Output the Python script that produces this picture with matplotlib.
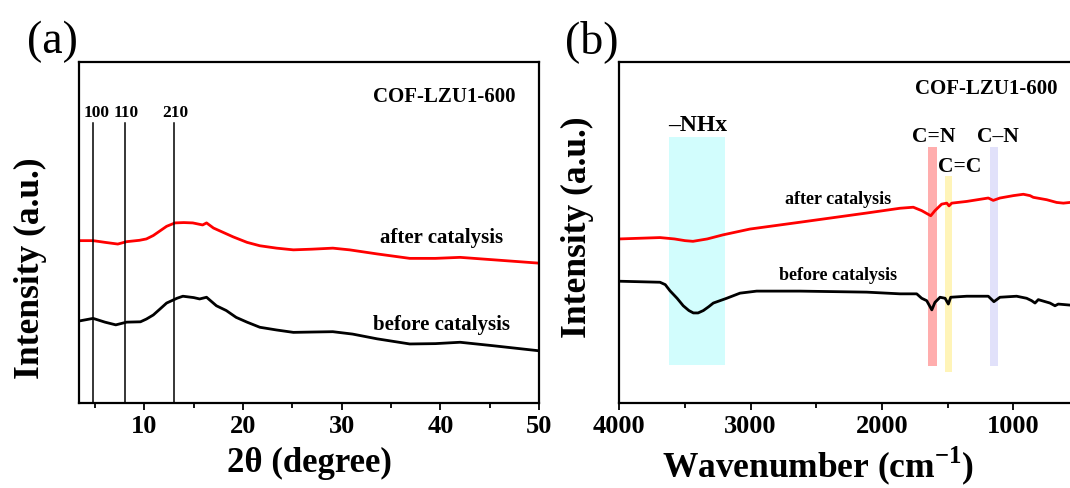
import matplotlib
matplotlib.use("Agg")
import matplotlib.pyplot as plt
from matplotlib.ticker import MultipleLocator

plt.rcParams['font.family'] = ['Liberation Serif', 'DejaVu Serif']
plt.rcParams['mathtext.fontset'] = 'custom'
plt.rcParams['mathtext.rm'] = 'Liberation Serif:bold'
plt.rcParams['mathtext.bf'] = 'Liberation Serif:bold'

# ---------------- XRD data (panel a) ----------------
xrd_2theta_after = [3.5, 4.8, 6.0, 7.3, 8.2, 9.5, 10.2, 10.9, 11.6, 12.25, 13.1, 14.0, 14.9,
                    15.9, 16.3, 17.0, 18.0, 19.0, 20.4, 21.7, 23.4, 25.1, 27.0, 29.1,
                    30.8, 33.6, 36.9, 39.5, 42.0, 45.3, 50.0]
xrd_after = [47.7, 47.7, 47.2, 46.7, 47.4, 47.8, 48.2, 49.2, 50.6, 51.9, 52.9, 53.0, 52.9,
             52.3, 52.9, 51.4, 50.1, 48.8, 47.2, 46.2, 45.5, 45.0, 45.2, 45.5,
             45.0, 43.8, 42.5, 42.5, 42.8, 42.1, 41.1]
xrd_2theta_before = [3.5, 4.8, 6.0, 7.1, 8.2, 9.6, 10.2, 10.9, 11.6, 12.25, 13.3, 13.9,
                     15.0, 15.6, 16.3, 17.3, 18.3, 19.3, 20.4, 21.7, 23.4, 25.1, 27.0,
                     29.1, 31.1, 33.6, 36.9, 39.5, 42.0, 45.3, 50.0]
xrd_before = [24.2, 24.9, 23.8, 23.0, 23.8, 23.9, 24.7, 25.9, 27.7, 29.4, 30.8, 31.4,
              31.0, 30.6, 31.1, 28.6, 27.2, 25.2, 23.8, 22.3, 21.5, 20.8, 20.9,
              21.0, 20.3, 18.9, 17.4, 17.5, 17.9, 16.9, 15.4]
hkl_labels = ['100', '110', '210']
hkl_pos = [4.8, 8.0, 13.0]

# ---------------- FTIR data (panel b) ----------------
ir_wn_after = [4000, 3690, 3580, 3500, 3439, 3330, 3210, 3005, 2624, 2116, 1862, 1761,
               1697, 1628, 1596, 1545, 1506, 1489, 1468, 1354, 1190, 1152, 1101, 999,
               923, 872, 847, 745, 669, 618, 568, 550]
ir_after = [48.2, 48.6, 48.2, 47.7, 47.5, 48.2, 49.4, 51.1, 53.1, 55.8, 57.2, 57.5,
            56.5, 55.0, 56.5, 58.4, 58.7, 57.9, 58.7, 59.2, 60.2, 59.5, 60.2, 60.9,
            61.3, 60.9, 60.4, 59.7, 58.9, 58.7, 58.9, 58.9]
ir_wn_before = [4000, 3690, 3650, 3614, 3560, 3513, 3470, 3436, 3400, 3360, 3320, 3284,
                3182, 3081, 2954, 2624, 2116, 1862, 1735, 1697, 1659, 1620, 1596, 1557,
                1519, 1494, 1476, 1354, 1190, 1147, 1101, 974, 898, 860, 834, 809, 720,
                682, 657, 568, 550]
ir_before = [35.8, 35.5, 34.8, 33.0, 30.8, 28.6, 27.2, 26.5, 26.5, 27.2, 28.3, 29.4,
             30.8, 32.3, 32.9, 32.9, 32.6, 32.1, 32.1, 30.8, 30.1, 27.4, 29.6, 31.1,
             30.8, 29.1, 31.1, 31.4, 31.4, 29.8, 31.1, 31.4, 30.8, 30.1, 29.4, 30.4, 29.4,
             28.6, 29.1, 28.8, 28.8]
band_labels = ['–NHx', 'C=N', 'C=C', 'C–N']
band_lo = [3196, 1580, 1464, 1116]
band_hi = [3622, 1651, 1522, 1177]
band_top = [78.0, 75.2, 66.6, 75.2]
band_bottom = [11.3, 10.8, 9.1, 10.8]
band_colors = ['#d2fdfd', '#ffadad', '#fff4b8', '#e1e1fa']
band_text_xy = [(3401, 81.9), (1606, 78.3), (1405, 69.5), (1115, 78.3)]

fig = plt.figure(figsize=(10.70, 4.89), dpi=100)
axa = fig.add_axes([79.3/1070, 84.7/489, 459.7/1070, 341/489])
axb = fig.add_axes([619.3/1070, 84.7/489, 472.7/1070, 341/489])

def style(ax):
    for s in ax.spines.values():
        s.set_linewidth(1.6)
    ax.tick_params(axis='x', which='major', direction='out', length=5, width=1.3,
                   labelsize=19, pad=3)
    ax.tick_params(axis='x', which='minor', direction='out', length=3.5, width=1.3)
    ax.tick_params(axis='y', left=False, labelleft=False)
    for lab in ax.get_xticklabels():
        lab.set_fontweight('bold')
    ax.set_ylim(0, 100)

# ---- panel a ----
axa.plot(xrd_2theta_after, xrd_after, color='#ff0000', lw=2.0)
axa.plot(xrd_2theta_before, xrd_before, color='black', lw=2.0)
for lab, p in zip(hkl_labels, hkl_pos):
    axa.plot([p, p], [0, 82.2], color='black', lw=1.1)
    axa.text(p + (0.35 if lab == '100' else 0.1), 85.5, lab, ha='center', va='center',
             fontsize=12.5, fontweight='bold')
axa.set_xlim(3.4, 50)
axa.xaxis.set_major_locator(MultipleLocator(10))
axa.xaxis.set_minor_locator(MultipleLocator(5))
style(axa)
axa.text(40.35, 90.1, 'COF-LZU1-600', ha='center', va='center', fontsize=15, fontweight='bold')
axa.text(40.15, 48.7, 'after catalysis', ha='center', va='center', fontsize=15, fontweight='bold')
axa.text(40.15, 23.3, 'before catalysis', ha='center', va='center', fontsize=15, fontweight='bold')
axa.set_xlabel('2θ (degree)', fontsize=25, fontweight='bold', labelpad=6)
axa.set_ylabel('Intensity (a.u.)', fontsize=25.5, fontweight='bold')
axa.yaxis.set_label_coords(-0.070, 0.40)

# ---- panel b ----
for lo, hi, top, bot, c in zip(band_lo, band_hi, band_top, band_bottom, band_colors):
    axb.fill_between([lo, hi], [bot, bot], [top, top], color=c, lw=0, zorder=0)
axb.plot(ir_wn_after, ir_after, color='#ff0000', lw=2.0)
axb.plot(ir_wn_before, ir_before, color='black', lw=2.0)
for lab, (tx, ty) in zip(band_labels, band_text_xy):
    axb.text(tx, ty, lab, ha='center', va='center',
             fontsize=17 if lab == '–NHx' else 15.5, fontweight='bold')
axb.set_xlim(4000, 400)
axb.xaxis.set_major_locator(MultipleLocator(1000))
axb.xaxis.set_minor_locator(MultipleLocator(500))
style(axb)
axb.text(1207, 92.4, 'COF-LZU1-600', ha='center', va='center', fontsize=15, fontweight='bold')
axb.text(2331, 60.1, 'after catalysis', ha='center', va='center', fontsize=13, fontweight='bold')
axb.text(2332, 37.9, 'before catalysis', ha='center', va='center', fontsize=13, fontweight='bold')
axb.set_xlabel(r'Wavenumber (cm$^{\mathbf{-1}}$)', fontsize=25.5, fontweight='bold', labelpad=6)
axb.xaxis.set_label_coords(0.42, -0.118)
axb.set_ylabel('Intensity (a.u.)', fontsize=25.5, fontweight='bold')
axb.yaxis.set_label_coords(-0.0535, 0.52)

fig.text(52/1070, 1 - 42/489, '(a)', ha='center', va='center', fontsize=33)
fig.text(592/1070, 1 - 42/489, '(b)', ha='center', va='center', fontsize=33)

fig.savefig('out.png', dpi=100)
